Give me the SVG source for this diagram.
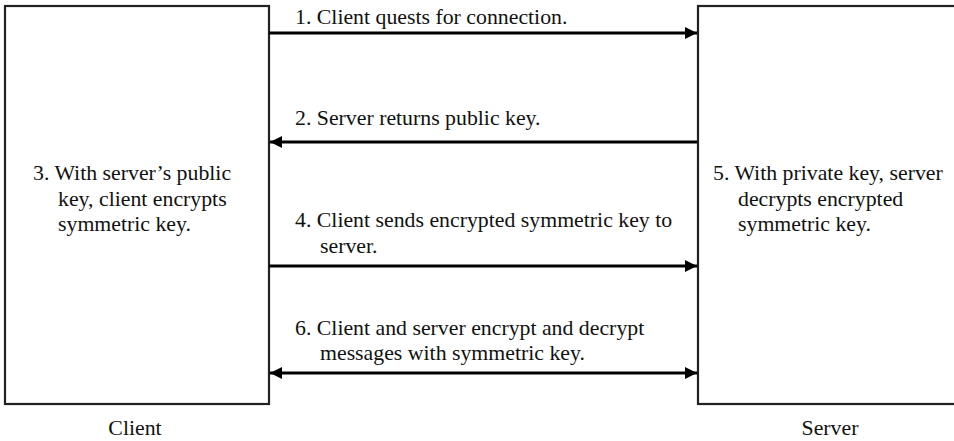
<svg xmlns="http://www.w3.org/2000/svg" width="954" height="441" viewBox="0 0 954 441">
<style>
.box{fill:#fff;stroke:#222;stroke-width:2.2}
.ln{stroke:#000;stroke-width:3;fill:none}
text{font-family:"Liberation Serif","Times New Roman",serif;font-size:21.8px;fill:#111}
</style>
<defs>
<marker id="ah" markerWidth="12" markerHeight="12" viewBox="0 0 12 12" refX="12" refY="6" orient="auto-start-reverse" markerUnits="userSpaceOnUse">
<path d="M0,0 L12,6 L0,12 Z" fill="#000"/>
</marker>
</defs>
<rect width="954" height="441" fill="#fff"/>
<g id="client">
<rect class="box" x="5" y="6" width="264" height="398"/>
<text x="33" y="180">3. With server’s public</text>
<text x="58" y="205.5">key, client encrypts</text>
<text x="58" y="231">symmetric key.</text>
<text x="135" y="435" text-anchor="middle">Client</text>
</g>
<g id="server">
<rect class="box" x="698" y="6" width="270" height="398"/>
<text x="713" y="180">5. With private key, server</text>
<text x="738" y="205.5">decrypts encrypted</text>
<text x="738" y="231">symmetric key.</text>
<text x="830" y="435" text-anchor="middle">Server</text>
</g>
<g id="connectors">
<line class="ln" x1="269" y1="33" x2="697" y2="33" marker-end="url(#ah)"/>
<line class="ln" x1="697" y1="142" x2="270" y2="142" marker-end="url(#ah)"/>
<line class="ln" x1="269" y1="266" x2="697" y2="266" marker-end="url(#ah)"/>
<line class="ln" x1="270" y1="373" x2="697" y2="373" marker-start="url(#ah)" marker-end="url(#ah)"/>
</g>
<g id="labels">
<text x="295" y="24">1. Client quests for connection.</text>
<text x="295" y="125">2. Server returns public key.</text>
<text x="295" y="227">4. Client sends encrypted symmetric key to</text>
<text x="320" y="253">server.</text>
<text x="295" y="335">6. Client and server encrypt and decrypt</text>
<text x="320" y="360">messages with symmetric key.</text>
</g>
</svg>
